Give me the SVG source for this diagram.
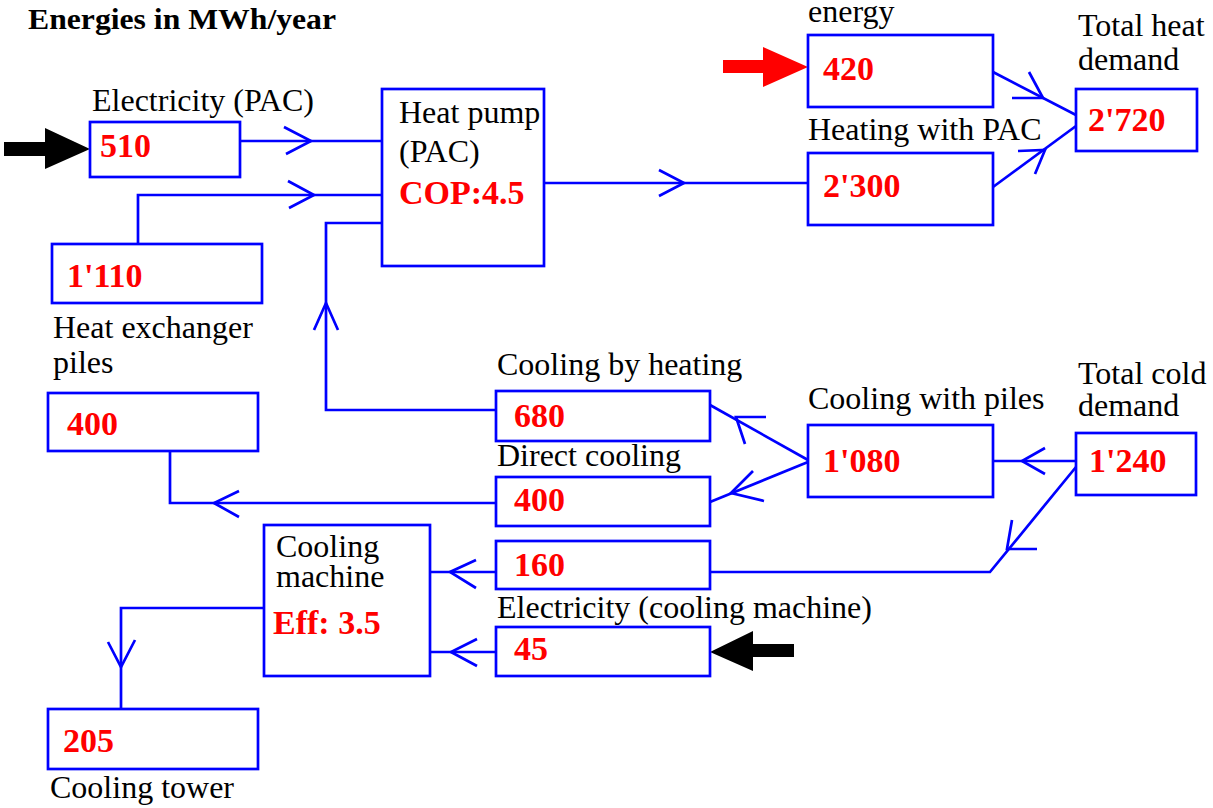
<svg xmlns="http://www.w3.org/2000/svg" width="1213" height="808" viewBox="0 0 1213 808">
<style>
.box{fill:#fff;stroke:#0000ff;stroke-width:2.7}
.ln{fill:none;stroke:#0000ff;stroke-width:2.7}
.lbl{font-family:"Liberation Serif",serif;font-size:32px;fill:#000}
.num{font-family:"Liberation Serif",serif;font-size:34px;font-weight:bold;fill:#ff0000}
.title{font-family:"Liberation Serif",serif;font-size:29px;font-weight:bold;fill:#000}
</style>
<rect width="1213" height="808" fill="#fff"/>
<text class="title" x="28" y="29" textLength="308" lengthAdjust="spacingAndGlyphs">Energies in MWh/year</text>
<g id="connectors">
<line class="ln" x1="240" y1="141" x2="382" y2="141"/>
<polyline class="ln" points="284,127 311,141 286,154"/>
<polyline class="ln" points="138,244 138,195 382,195"/>
<polyline class="ln" points="288,181 314,195 289,208"/>
<polyline class="ln" points="497,410 326,410 326,223 382,223"/>
<polyline class="ln" points="314,330 326,303 338,330"/>
<line class="ln" x1="545" y1="183" x2="808" y2="183"/>
<polyline class="ln" points="659,170 684,183 659,196"/>
<line class="ln" x1="993" y1="72" x2="1076" y2="115"/>
<polyline class="ln" points="1029,72 1043,98 1012,98"/>
<line class="ln" x1="993" y1="187" x2="1076" y2="126"/>
<polyline class="ln" points="1018,151 1045,150 1035,174"/>
<line class="ln" x1="1076" y1="461" x2="993" y2="461"/>
<polyline class="ln" points="1045,448 1022,461 1045,474"/>
<line class="ln" x1="808" y1="460" x2="710" y2="405"/>
<polyline class="ln" points="766,417 736,417 745,444"/>
<line class="ln" x1="808" y1="462" x2="710" y2="502"/>
<polyline class="ln" points="753,471 731,493 764,501"/>
<polyline class="ln" points="1076,467 990,572 710,572"/>
<polyline class="ln" points="1012,520 1007,549 1037,549"/>
<line class="ln" x1="497" y1="572" x2="430" y2="572"/>
<polyline class="ln" points="476,560 450,572 476,588"/>
<polyline class="ln" points="497,503 170,503 170,451"/>
<polyline class="ln" points="239,491 214,503 239,517"/>
<line class="ln" x1="497" y1="652" x2="430" y2="652"/>
<polyline class="ln" points="477,639 451,652 477,666"/>
<polyline class="ln" points="264,608 121,608 121,709"/>
<polyline class="ln" points="108,642 121,667 135,640"/>
<polygon points="4,142 45,142 45,128 90,149 45,169 45,156 4,156" fill="#000"/>
<polygon points="723,60 763,60 763,47 808,67 763,87 763,73 723,73" fill="#ff0000"/>
<polygon points="710,652 753,631 753,644 794,644 794,657 753,657 753,671" fill="#000"/>
</g>
<g id="n510">
<text class="lbl" x="92" y="111">Electricity (PAC)</text>
<rect class="box" x="90" y="122" width="150" height="55"/>
<text class="num" x="100" y="157">510</text>
</g>
<g id="heatpump">
<rect class="box" x="382" y="89" width="162" height="177"/>
<text class="lbl" x="399" y="123">Heat pump</text>
<text class="lbl" x="399" y="162">(PAC)</text>
<text class="num" x="399" y="204">COP:4.5</text>
</g>
<g id="n1110">
<rect class="box" x="52" y="244" width="210" height="59"/>
<text class="num" x="67" y="287">1'110</text>
<text class="lbl" x="53" y="338">Heat exchanger</text>
<text class="lbl" x="53" y="373">piles</text>
</g>
<g id="n420">
<text class="lbl" x="808" y="22">energy</text>
<rect class="box" x="808" y="35" width="185" height="72"/>
<text class="num" x="823" y="80">420</text>
</g>
<g id="n2300">
<text class="lbl" x="808" y="140">Heating with PAC</text>
<rect class="box" x="808" y="153" width="185" height="72"/>
<text class="num" x="823" y="197">2'300</text>
</g>
<g id="n2720">
<text class="lbl" x="1078" y="36">Total heat</text>
<text class="lbl" x="1078" y="70">demand</text>
<rect class="box" x="1076" y="89" width="121" height="62"/>
<text class="num" x="1088" y="131">2'720</text>
</g>
<g id="n680">
<text class="lbl" x="497" y="375">Cooling by heating</text>
<rect class="box" x="496" y="391" width="214" height="50"/>
<text class="num" x="514" y="427">680</text>
</g>
<g id="n400direct">
<text class="lbl" x="497" y="466">Direct cooling</text>
<rect class="box" x="496" y="477" width="214" height="49"/>
<text class="num" x="514" y="511">400</text>
</g>
<g id="n1080">
<text class="lbl" x="808" y="409">Cooling with piles</text>
<rect class="box" x="808" y="425" width="185" height="72"/>
<text class="num" x="823" y="472">1'080</text>
</g>
<g id="n1240">
<text class="lbl" x="1078" y="384">Total cold</text>
<text class="lbl" x="1078" y="416">demand</text>
<rect class="box" x="1076" y="433" width="120" height="62"/>
<text class="num" x="1089" y="472">1'240</text>
</g>
<g id="n400piles">
<rect class="box" x="48" y="393" width="210" height="58"/>
<text class="num" x="67" y="435">400</text>
</g>
<g id="n160">
<rect class="box" x="496" y="541" width="214" height="48"/>
<text class="num" x="514" y="576">160</text>
</g>
<g id="coolingmachine">
<rect class="box" x="264" y="525" width="166" height="151"/>
<text class="lbl" x="276" y="557">Cooling</text>
<text class="lbl" x="276" y="587">machine</text>
<text class="num" x="273" y="634">Eff: 3.5</text>
</g>
<g id="n45">
<text class="lbl" x="497" y="618">Electricity (cooling machine)</text>
<rect class="box" x="496" y="627" width="214" height="49"/>
<text class="num" x="514" y="660">45</text>
</g>
<g id="n205">
<rect class="box" x="48" y="709" width="210" height="60"/>
<text class="num" x="63" y="752">205</text>
<text class="lbl" x="50" y="798">Cooling tower</text>
</g>
</svg>
